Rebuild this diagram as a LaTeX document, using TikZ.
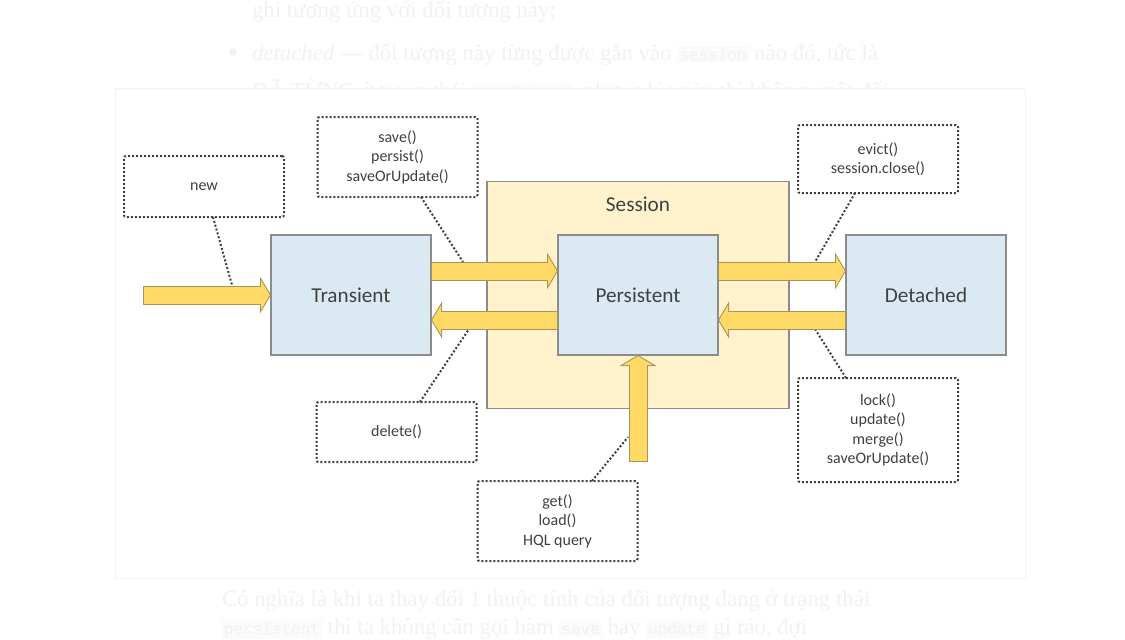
\documentclass[tikz,border=0pt]{standalone}
\usepackage{fontspec}
\setmainfont{Carlito}
\newfontfamily\pagefont{Liberation Serif}
\setmonofont{Liberation Mono}
\usetikzlibrary{positioning,calc,arrows.meta}
\definecolor{statefill}{HTML}{DBEAF2}
\definecolor{sessfill}{HTML}{FFF2CC}
\definecolor{fatfill}{HTML}{FFD966}
\definecolor{fatline}{HTML}{A89455}
\definecolor{boxline}{HTML}{8C8C8C}
\definecolor{ink}{HTML}{404040}
\definecolor{faint}{HTML}{F1F1F1}
\definecolor{codebg}{HTML}{FBFBFB}
\definecolor{panelline}{HTML}{F3F3F3}
\newcommand\code[1]{{\setlength\fboxsep{1pt}\colorbox{codebg}{\ttfamily\fontsize{8}{9}\selectfont #1}}}

\begin{document}
\begin{tikzpicture}
[x=0.5pt,y=-0.5pt,
 every node/.style={inner sep=0pt,outer sep=0pt,text=ink,font=\fontsize{8}{9.75}\selectfont},
 state/.style={rectangle,draw=boxline,fill=statefill,line width=0.8pt,minimum width=80pt,minimum height=60pt,font=\fontsize{10.6}{12}\selectfont},
 sess/.style={rectangle,draw=boxline,fill=sessfill,line width=0.8pt,minimum width=151pt,minimum height=113.5pt},
 call/.style={rectangle,draw=ink,line width=1pt,dash pattern=on 1pt off 1pt,rounded corners=1pt,minimum width=80pt,align=center},
 leader/.style={draw=ink,line width=1pt,dash pattern=on 1pt off 1pt},
 fat/.style={draw=fatfill,line width=8.5pt,shorten <=0.5pt,shorten >=0.6pt,
   -{Triangle[length=4.4pt,width=14.8pt,line width=0pt]},
   preaction={draw=fatline,line width=9.5pt,shorten <=0pt,shorten >=0pt,
     -{Triangle[length=5.5pt,width=18.5pt,line width=0pt]}}},
 page/.style={anchor=base west,text=faint,font=\pagefont\fontsize{11.4}{13}\selectfont}]
\useasboundingbox (0,0) rectangle (1125,639);

% page text round the picture
\node[page] (line1) at (252,17) {ghi tương ứng với đối tượng này;};
\node[page,anchor=base,font=\pagefont\fontsize{15}{15}\selectfont] (bullet) at (233,62) {•};
\node[page] (line2) at (252,60) {\textit{detached} — đối tượng này từng được gắn vào \code{session} nào đó, tức là};
\node[page] (line3) at (252,98) {ĐÃ TỪNG ở trong thái \code{persistent}, nhưng lúc này thì không; một đối};
\node[page] (line4) at (222,606) {Có nghĩa là khi ta thay đổi 1 thuộc tính của đối tượng đang ở trạng thái};
\node[page] (line5) at (222,634) {\code{persistent} thì ta không cần gọi hàm \code{save} hay \code{update} gì ráo, đợi};
\filldraw[fill=white,draw=panelline] (115,88) rectangle (1025,578);

\node[state] (trans) at (351,295)                        {Transient};
\node[sess]  (session) [on grid,right=143.5pt of trans]  {};
\node[state] (pers) at (session)                         {Persistent};
\node[state] (det)  [on grid,right=144pt of pers]        {Detached};
\node[font=\fontsize{10.6}{12}\selectfont] (sesstitle) at ($(session.north)+(0,23)$) {Session};

\node[call,minimum height=30.5pt] (new)    [on grid,above left=54.25pt and 73.5pt of trans]  {new};
\node[call,minimum height=40pt]   (save)   [on grid,above right=69pt and 23.25pt of trans]   {save()\\persist()\\saveOrUpdate()};
\node[call,minimum height=30pt]   (delete) [on grid,below right=68.5pt and 22.75pt of trans] {delete()};
\node[call,minimum height=34pt]   (evict)  [on grid,above left=68pt and 24pt of det]         {evict()\\session.close()};
\node[call,minimum height=52pt]   (lock)   [on grid,below left=67.5pt and 24pt of det]       {lock()\\update()\\merge()\\saveOrUpdate()};
\node[call,minimum height=40pt]   (get)    [on grid,below left=113pt and 40.25pt of pers]    {get()\\load()\\HQL query};

\coordinate (newin)     at ($(trans.west)+(-128,0)$);
\coordinate (getin)     at ($(pers.south)+(0,107)$);
\coordinate (newhook)   at ($(trans.west)+(-39,-10)$);
\coordinate (savehook)  at ($(trans.east)+(32,-33)$);
\coordinate (delhook)   at ($(trans.east)+(38,34)$);
\coordinate (evicthook) at ($(det.west)+(-31,-33)$);
\coordinate (lockhook)  at ($(det.west)+(-31,34)$);
\coordinate (gethook)   at ($(pers.south)+(-10,82)$);

\path[leader] ([xshift=4.5pt]new.south)    edge (newhook);
\path[leader] ([xshift=11.75pt]save.south) edge (savehook);
\path[leader] ([xshift=11.75pt]delete.north) edge (delhook);
\path[leader] ([xshift=-11.5pt]evict.south) edge (evicthook);
\path[leader] ([xshift=-16pt]lock.north)   edge (lockhook);
\path[leader] ([xshift=17.25pt]get.north)  edge (gethook);

\draw[fat] (newin) -- (trans.west);
\draw[fat] ($(trans.east)+(0,-24)$) -- ($(pers.west)+(0,-24)$);
\draw[fat] ($(pers.west)+(0,25)$)   -- ($(trans.east)+(0,25)$);
\draw[fat] ($(pers.east)+(0,-24)$)  -- ($(det.west)+(0,-24)$);
\draw[fat] ($(det.west)+(0,25)$)    -- ($(pers.east)+(0,25)$);
\draw[fat] (getin) -- (pers.south);
\end{tikzpicture}
\end{document}
